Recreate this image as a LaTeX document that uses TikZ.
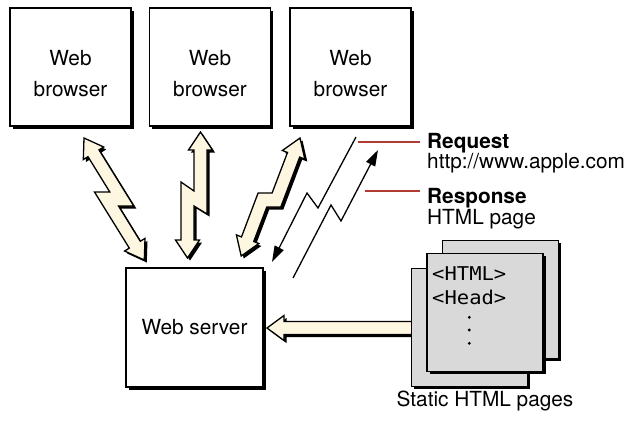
\documentclass[tikz,border=0pt]{standalone}
\usepackage{fontspec}
\setmainfont{TeX Gyre Heros}
\newfontfamily\codefont[FakeStretch=1.08]{DejaVu Sans Mono}
\usepackage{tikz}
\usetikzlibrary{arrows.meta,shadows,calc}
\definecolor{boltcream}{RGB}{253,246,224}
\definecolor{pagegray}{RGB}{217,217,217}
\definecolor{leadred}{RGB}{178,58,52}
\tikzstyle{dropblack} = [drop shadow={shadow xshift=2.5pt, shadow yshift=-2.5pt, fill=black, opacity=1}]
\tikzstyle{txt} = [font=\fontsize{20.8}{31}\selectfont, align=center, inner sep=0pt]
\tikzstyle{txtbold} = [font=\fontsize{20.8}{31}\selectfont\bfseries, inner sep=0pt]
\tikzstyle{hostbox} = [draw, line width=1.3pt, fill=white, minimum width=121pt, minimum height=118pt, font=\fontsize{20.8}{31}\selectfont, dropblack]
\tikzstyle{htmlpage} = [draw, line width=1.3pt, fill=pagegray, minimum width=116pt, minimum height=118pt, dropblack]
\tikzstyle{bolt} = [draw, line width=1.3pt, line join=miter, fill=boltcream, dropblack]
\tikzstyle{code} = [font=\codefont\fontsize{19}{19}\selectfont, inner sep=0pt, anchor=base west]
\tikzstyle{msg} = [line width=1.3pt, line join=miter, -{Triangle[length=16pt,width=10pt]}]
\tikzstyle{leader} = [line width=1.5pt, leadred]

\begin{document}
\begin{tikzpicture}[x=1pt, y=-1pt]
    \useasboundingbox (0,0) rectangle (630,421);

    % Browsers
    \node[hostbox] (b1) at (70.5,67) {};
    \node[hostbox] (b2) at (210,67) {};
    \node[hostbox] (b3) at (350.5,67) {};
    \foreach \b in {b1,b2,b3}
        \node[txt] (\b-text) at ($(\b)+(0,6.5)$) {Web\\browser};

    % Web server
    \node[hostbox, minimum width=137pt, minimum height=119pt] (server) at (194.5,327.5) {Web server};

    % Bolts browser <-> server
    \path[bolt] (84,138) -- (103.7,147) -- (99,149.9) -- (133.8,206) -- (118.5,206)
        -- (140.3,241.3) -- (145,238.4) -- (144.3,260) -- (124.6,251) -- (129.3,248.1)
        -- (94.5,192) -- (109.8,192) -- (88,156.7) -- (83.3,159.6) -- cycle;
    \path[bolt] (200.5,132) -- (212.5,150) -- (207,150) -- (207,214) -- (194,206)
        -- (194,240) -- (199.5,240) -- (187.5,258) -- (175.5,240) -- (181,240)
        -- (181,182) -- (194,191) -- (194,150) -- (188.5,150) -- cycle;
    \path[bolt] (300,138) -- (304.8,159.1) -- (299.7,157.1) -- (280.8,207) -- (266.8,207)
        -- (253.7,241.5) -- (258.8,243.5) -- (241.2,256) -- (236.4,234.9) -- (241.5,236.9)
        -- (258.1,193) -- (272.1,193) -- (287.5,152.5) -- (282.4,150.5) -- cycle;

    % Request / response
    \coordinate (reqfrom) at (356,137);
    \coordinate (reqto) at (272,262);
    \coordinate (respfrom) at (293,278);
    \coordinate (respto) at (378,150);
    \draw[msg] (reqfrom) -- (318,208) -- (307,193) -- (reqto);
    \draw[msg] (respfrom) -- (331,205) -- (341,221) -- (respto);

    % Labels
    \node[txtbold, anchor=base west, inner xsep=7pt] (req) at (420,148.3) {Request};
    \node[txt, anchor=base west] (requrl) at (427,168.3) {http://www.apple.com};
    \node[txtbold, anchor=base west, inner xsep=7pt] (resp) at (420,203.3) {Response};
    \node[txt, anchor=base west] (resppage) at (427,224) {HTML page};
    \coordinate (reqlead) at (358,142);
    \coordinate (resplead) at (365,191);
    \draw[leader] (reqlead) -- (reqlead -| req.west);
    \draw[leader] (resplead) -- (resplead -| resp.west);

    % Pages -> server
    \path[bolt] (267,328) -- (284,315.5) -- (284,321.5) -- (415,321.5) -- (415,334.5)
        -- (284,334.5) -- (284,340.5) -- cycle;
    \node[htmlpage] (pageback) at (500.5,299.5) {};
    \node[htmlpage] (pagelow) at (469.5,327.5) {};
    \node[htmlpage] (pagefront) at (485,312.5) {};
    \node[code] (tag1) at (432,280) {<HTML>};
    \node[code] (tag2) at (432,304) {<Head>};
    \foreach \y in {317.3,330,343.3}
        \fill (469.3,\y) circle (1.6);
    \node[txt, anchor=base] (pageslabel) at (485,406.7) {Static HTML pages};
\end{tikzpicture}
\end{document}
